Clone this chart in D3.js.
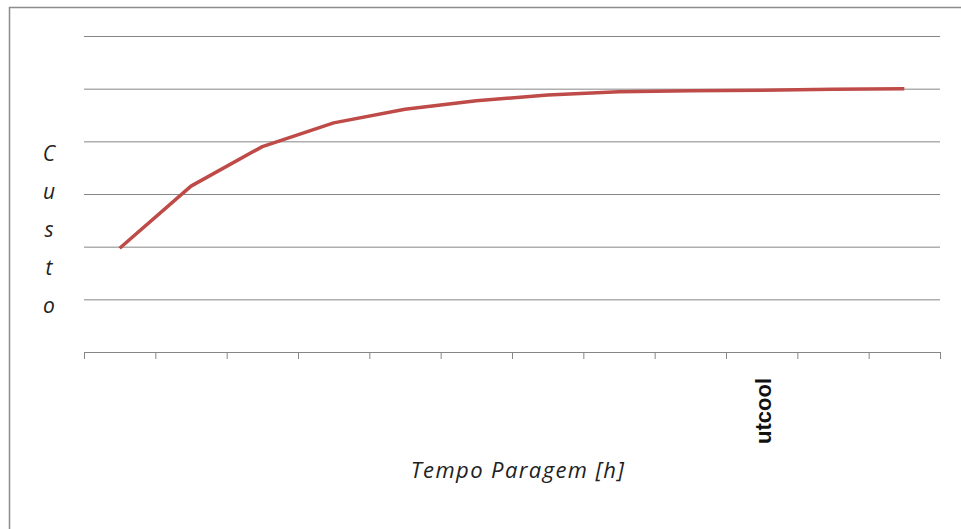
<!DOCTYPE html>
<html>
<head>
<meta charset="utf-8">
<script src="https://cdn.jsdelivr.net/npm/d3@7"></script>
<style>
  html, body { margin: 0; padding: 0; background: #fff; }
  svg { display: block; }
</style>
</head>
<body>
<svg id="chart" width="961" height="529"></svg>
<script>
// ---- data ----
const categories = ["1","2","3","4","5","6","7","8","9","10","11","12"];
const custo = [1.97, 3.15, 3.90, 4.35, 4.61, 4.77, 4.88, 4.94, 4.96, 4.97, 4.99, 5.00];
const gridValues = [1, 2, 3, 4, 5, 6];
const yTitleLetters = ["C", "u", "s", "t", "o"];
const xTitle = "Tempo Paragem [h]";
const noteText = "utcool";

// ---- layout ----
const svg = d3.select("#chart");
const plot = { left: 84, right: 940, top: 36, bottom: 352 };

// frame
svg.append("rect")
  .attr("x", 9.5).attr("y", 7.5)
  .attr("width", 1000).attr("height", 1000)
  .attr("fill", "#fff")
  .attr("stroke", "#8c8c8c").attr("stroke-width", 1.5);

const x = d3.scaleBand().domain(categories).range([plot.left, plot.right]).padding(0);
const xTicks = d3.scaleLinear().domain([0, categories.length]).range([plot.left, plot.right]);
const y = d3.scaleLinear().domain([0, 6]).range([plot.bottom, plot.top]);

// gridlines
const grid = svg.append("g")
  .attr("transform", `translate(${plot.left},0)`)
  .call(d3.axisLeft(y).tickValues(gridValues).tickSize(-(plot.right - plot.left)).tickFormat(""));
grid.select(".domain").remove();
grid.selectAll(".tick line").attr("stroke", "#868686").attr("stroke-width", 1);

// x axis
const xa = svg.append("g")
  .attr("transform", `translate(0,${plot.bottom})`)
  .call(d3.axisBottom(xTicks).tickValues(d3.range(0, categories.length + 1)).tickSize(7).tickSizeOuter(0).tickFormat(""));
xa.select(".domain").attr("stroke", "#868686").attr("stroke-width", 1.2);
xa.selectAll(".tick line").attr("stroke", "#868686").attr("stroke-width", 1);

// series line
const line = d3.line()
  .x((d, i) => x(categories[i]) + x.bandwidth() / 2)
  .y(d => y(d));
svg.append("path")
  .datum(custo)
  .attr("d", line)
  .attr("fill", "none")
  .attr("stroke", "#be4b48")
  .attr("stroke-width", 3.5)
  .attr("stroke-linejoin", "round");

// y title (stacked letters)
svg.append("g").selectAll("text")
  .data(yTitleLetters)
  .join("text")
  .attr("x", 49)
  .attr("y", (d, i) => 161 + i * 38)
  .attr("text-anchor", "middle")
  .attr("font-family", "'Open Sans', Lato, sans-serif")
  .attr("font-style", "italic")
  .attr("font-size", 21)
  .attr("fill", "#222")
  .text(d => d);

// x title
svg.append("text")
  .attr("x", 518)
  .attr("y", 478)
  .attr("text-anchor", "middle")
  .attr("font-family", "'Open Sans', Lato, sans-serif")
  .attr("font-style", "italic")
  .attr("font-size", 22)
  .attr("letter-spacing", 1.4)
  .attr("fill", "#222")
  .text(xTitle);

// rotated note
svg.append("text")
  .attr("transform", "translate(771,411) rotate(-90)")
  .attr("text-anchor", "middle")
  .attr("font-family", "'Liberation Sans', Arial, sans-serif")
  .attr("font-weight", "bold")
  .attr("font-size", 22)
  .attr("fill", "#111")
  .text(noteText);
</script>
</body>
</html>
